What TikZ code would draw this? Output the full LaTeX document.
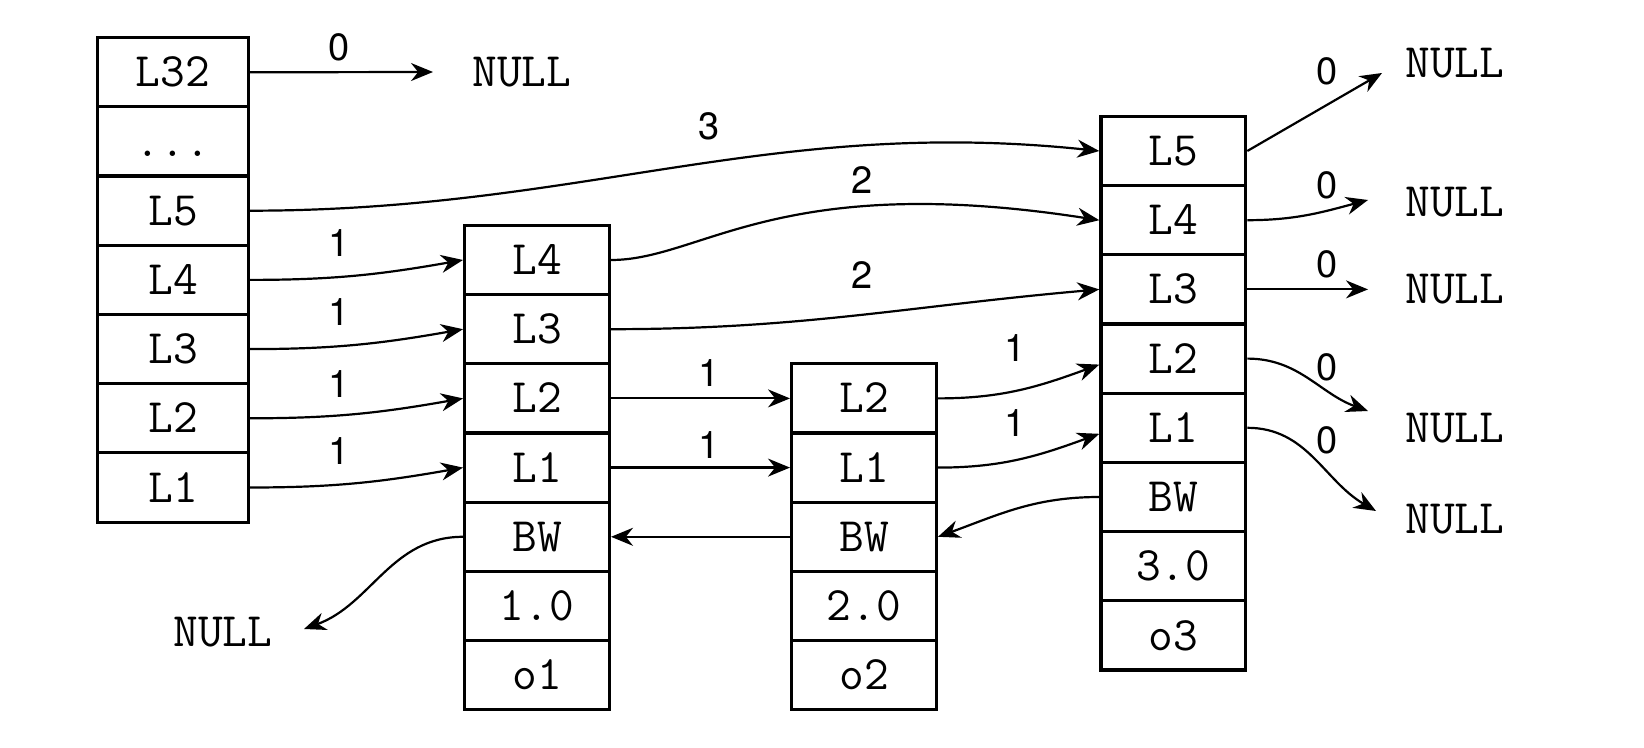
\documentclass[tikz,border=0pt]{standalone}
\usepackage{fontspec}
\newfontfamily\labelsans{TeX Gyre Heros}
\usetikzlibrary{arrows.meta}
\begin{document}
\begin{tikzpicture}[x=0.5pt,y=0.5pt,
  cell/.style={draw, line width=1.6pt, minimum width=72.4pt, minimum height=34.6pt,
    inner sep=0pt, text height=14.6pt, text depth=0pt,
    font=\fontsize{24}{28}\selectfont\ttfamily},
  hcell/.style={cell, minimum width=75.5pt},
  link/.style={line width=1.1pt, -{Stealth[length=11pt,width=9pt]}},
  lbl/.style={font=\fontsize{19}{22}\selectfont\labelsans, inner sep=0pt},
  nul/.style={font=\fontsize{24}{28}\selectfont\ttfamily, inner sep=0pt, anchor=west}]
\useasboundingbox (0,0) rectangle (1644,-748);

% skiplist header
\node[hcell] (h32)   at (173,-72.3)  {L32};
\node[hcell] (hdots) at (173,-141.5) {...};
\node[hcell] (h5)    at (173,-210.7) {L5};
\node[hcell] (h4)    at (173,-279.9) {L4};
\node[hcell] (h3)    at (173,-349.1) {L3};
\node[hcell] (h2)    at (173,-418.3) {L2};
\node[hcell] (h1)    at (173,-487.5) {L1};

% node o1
\node[cell] (a4)  at (537,-260)   {L4};
\node[cell] (a3)  at (537,-329.2) {L3};
\node[cell] (a2)  at (537,-398.4) {L2};
\node[cell] (a1)  at (537,-467.6) {L1};
\node[cell] (abw) at (537,-536.8) {BW};
\node[cell] (asc) at (537,-606)   {1.0};
\node[cell] (aob) at (537,-675.2) {o1};

% node o2
\node[cell] (b2)  at (864,-398.4) {L2};
\node[cell] (b1)  at (864,-467.6) {L1};
\node[cell] (bbw) at (864,-536.8) {BW};
\node[cell] (bsc) at (864,-606)   {2.0};
\node[cell] (bob) at (864,-675.2) {o2};

% node o3
\node[cell] (c5)  at (1173.3,-151)   {L5};
\node[cell] (c4)  at (1173.3,-220.2) {L4};
\node[cell] (c3)  at (1173.3,-289.4) {L3};
\node[cell] (c2)  at (1173.3,-358.6) {L2};
\node[cell] (c1)  at (1173.3,-427.8) {L1};
\node[cell] (cbw) at (1173.3,-497)   {BW};
\node[cell] (csc) at (1173.3,-566.2) {3.0};
\node[cell] (cob) at (1173.3,-635.4) {o3};

% NULL targets
\node[nul] (n0)  at (472,-72)   {NULL};
\node[nul] (nl)  at (173,-632)  {NULL};
\node[nul] (nr5) at (1405,-63)  {NULL};
\node[nul] (nr4) at (1405,-202) {NULL};
\node[nul] (nr3) at (1405,-289) {NULL};
\node[nul] (nr2) at (1405,-428) {NULL};
\node[nul] (nr1) at (1405,-519) {NULL};

\coordinate (t0) at (433,-72);
\coordinate (tl) at (304,-629);
\coordinate (t5) at (1382,-73);
\coordinate (t4) at (1368,-200);
\coordinate (t3) at (1368,-289.4);
\coordinate (t2) at (1368,-411);
\coordinate (t1) at (1376,-511);

% forward pointers
\draw[link] (h32.east) -- (t0);
\draw[link] (h5.east) to[out=0,in=174] (c5.west);
\draw[link] (h4.east) to[out=0,in=190] (a4.west);
\draw[link] (h3.east) to[out=0,in=190] (a3.west);
\draw[link] (h2.east) to[out=0,in=190] (a2.west);
\draw[link] (h1.east) to[out=0,in=190] (a1.west);
\draw[link] (a4.east) .. controls +(91,0) and +(-321,50) .. (c4.west);
\draw[link] (a3.east) to[out=0,in=185] (c3.west);
\draw[link] (a2.east) -- (b2.west);
\draw[link] (a1.east) -- (b1.west);
\draw[link] (b2.east) to[out=0,in=200] ([yshift=-3pt]c2.west);
\draw[link] (b1.east) to[out=0,in=200] ([yshift=-3pt]c1.west);
\draw[link] (c5.east) -- (t5);
\draw[link] (c4.east) to[out=0,in=195] (t4);
\draw[link] (c3.east) -- (t3);
\draw[link] (c2.east) to[out=0,in=160] (t2);
\draw[link] (c1.east) to[out=0,in=150] (t1);

% backward pointers
\draw[link] (cbw.west) to[out=180,in=20] (bbw.east);
\draw[link] (bbw.west) -- (abw.east);
\draw[link] (abw.west) to[out=180,in=20] (tl);

% spans
\node[lbl] (s0)  at (339,-47)  {0};
\node[lbl] (s3)  at (709,-126) {3};
\node[lbl] (sh4) at (339,-243) {1};
\node[lbl] (sh3) at (339,-312) {1};
\node[lbl] (sh2) at (339,-384) {1};
\node[lbl] (sh1) at (339,-451) {1};
\node[lbl] (sa4) at (862,-180) {2};
\node[lbl] (sa3) at (862,-275) {2};
\node[lbl] (sa2) at (709,-373) {1};
\node[lbl] (sa1) at (709,-445) {1};
\node[lbl] (sb2) at (1015,-348) {1};
\node[lbl] (sb1) at (1015,-423) {1};
\node[lbl] (sc5) at (1327,-71)  {0};
\node[lbl] (sc4) at (1327,-185) {0};
\node[lbl] (sc3) at (1327,-264) {0};
\node[lbl] (sc2) at (1327,-367) {0};
\node[lbl] (sc1) at (1327,-440) {0};
\end{tikzpicture}
\end{document}
